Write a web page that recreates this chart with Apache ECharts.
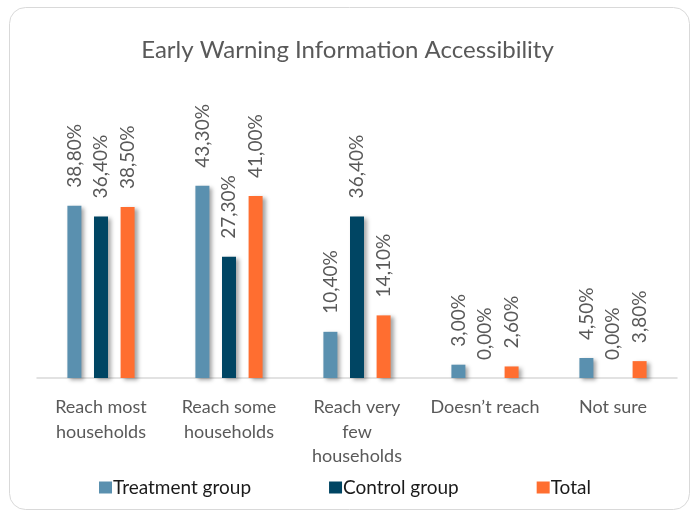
<!DOCTYPE html>
<html lang="en">
<head>
    <meta charset="UTF-8">
    <title>Early Warning Information Accessibility</title>
    <script src="https://cdn.jsdelivr.net/npm/echarts@6/dist/echarts.min.js"></script>
    <style>
        html, body { margin: 0; padding: 0; background: #fff; }
        #main { width: 695px; height: 512px; }
    </style>
</head>
<body>
<div id="main"></div>
<script>
    // data
    var categories = ['Reach most\nhouseholds', 'Reach some\nhouseholds', 'Reach very\nfew\nhouseholds', 'Doesn\u2019t reach', 'Not sure'];
    var treatment = [38.8, 43.3, 10.4, 3.0, 4.5];
    var control = [36.4, 27.3, 36.4, 0.0, 0.0];
    var total = [38.5, 41.0, 14.1, 2.6, 3.8];
    var seriesNames = ['Treatment group', 'Control group', 'Total'];
    var colors = ['#5A90AF', '#004563', '#FF6E30'];

    var font = 'Lato, "Open Sans", sans-serif';
    var textColor = '#595959';

    function pct(p) {
        return p.value.toFixed(2).replace('.', ',') + '%';
    }

    function makeSeries(name, data, color) {
        return {
            name: name,
            type: 'bar',
            data: data,
            barWidth: 14,
            barGap: '90%',
            itemStyle: {
                color: color,
                shadowColor: 'rgba(0,0,0,0.35)',
                shadowBlur: 4,
                shadowOffsetX: 3,
                shadowOffsetY: 2
            },
            label: {
                show: true,
                position: 'top',
                rotate: 90,
                align: 'left',
                verticalAlign: 'middle',
                distance: 18,
                formatter: pct,
                color: textColor,
                fontFamily: font,
                fontSize: 19
            }
        };
    }

    var myCharts = echarts.init(document.getElementById('main'));
    var option = {
        backgroundColor: '#fff',
        animation: false,
        graphic: [{
            type: 'rect',
            shape: { x: 9.5, y: 7.5, width: 680, height: 502, r: 16 },
            style: { fill: 'none', stroke: '#d9d9d9', lineWidth: 1 },
            z: -1
        }],
        title: {
            text: 'Early Warning Information Accessibility',
            left: 'center',
            top: 33,
            textStyle: {
                color: textColor,
                fontFamily: font,
                fontWeight: 'normal',
                fontSize: 24
            }
        },
        color: colors,
        legend: {
            bottom: 10,
            left: 94,
            itemWidth: 13,
            itemHeight: 12,
            itemGap: 78,
            icon: 'rect',
            textStyle: {
                color: '#1a1a1a',
                fontFamily: font,
                fontSize: 19,
                padding: [0, 0, 0, -4]
            },
            data: seriesNames
        },
        grid: {
            left: 37,
            right: 18,
            top: 156,
            bottom: 134,
            containLabel: false
        },
        xAxis: {
            type: 'category',
            data: categories,
            axisLine: { lineStyle: { color: '#d9d9d9', width: 1.5 } },
            axisTick: { show: false },
            axisLabel: {
                color: textColor,
                fontFamily: font,
                fontSize: 18,
                lineHeight: 24.5,
                margin: 17,
                interval: 0
            }
        },
        yAxis: {
            type: 'value',
            min: 0,
            max: 50,
            show: false,
            splitLine: { show: false }
        },
        series: [
            makeSeries(seriesNames[0], treatment, colors[0]),
            makeSeries(seriesNames[1], control, colors[1]),
            makeSeries(seriesNames[2], total, colors[2])
        ]
    };
    myCharts.setOption(option, true);
</script>
</body>
</html>
